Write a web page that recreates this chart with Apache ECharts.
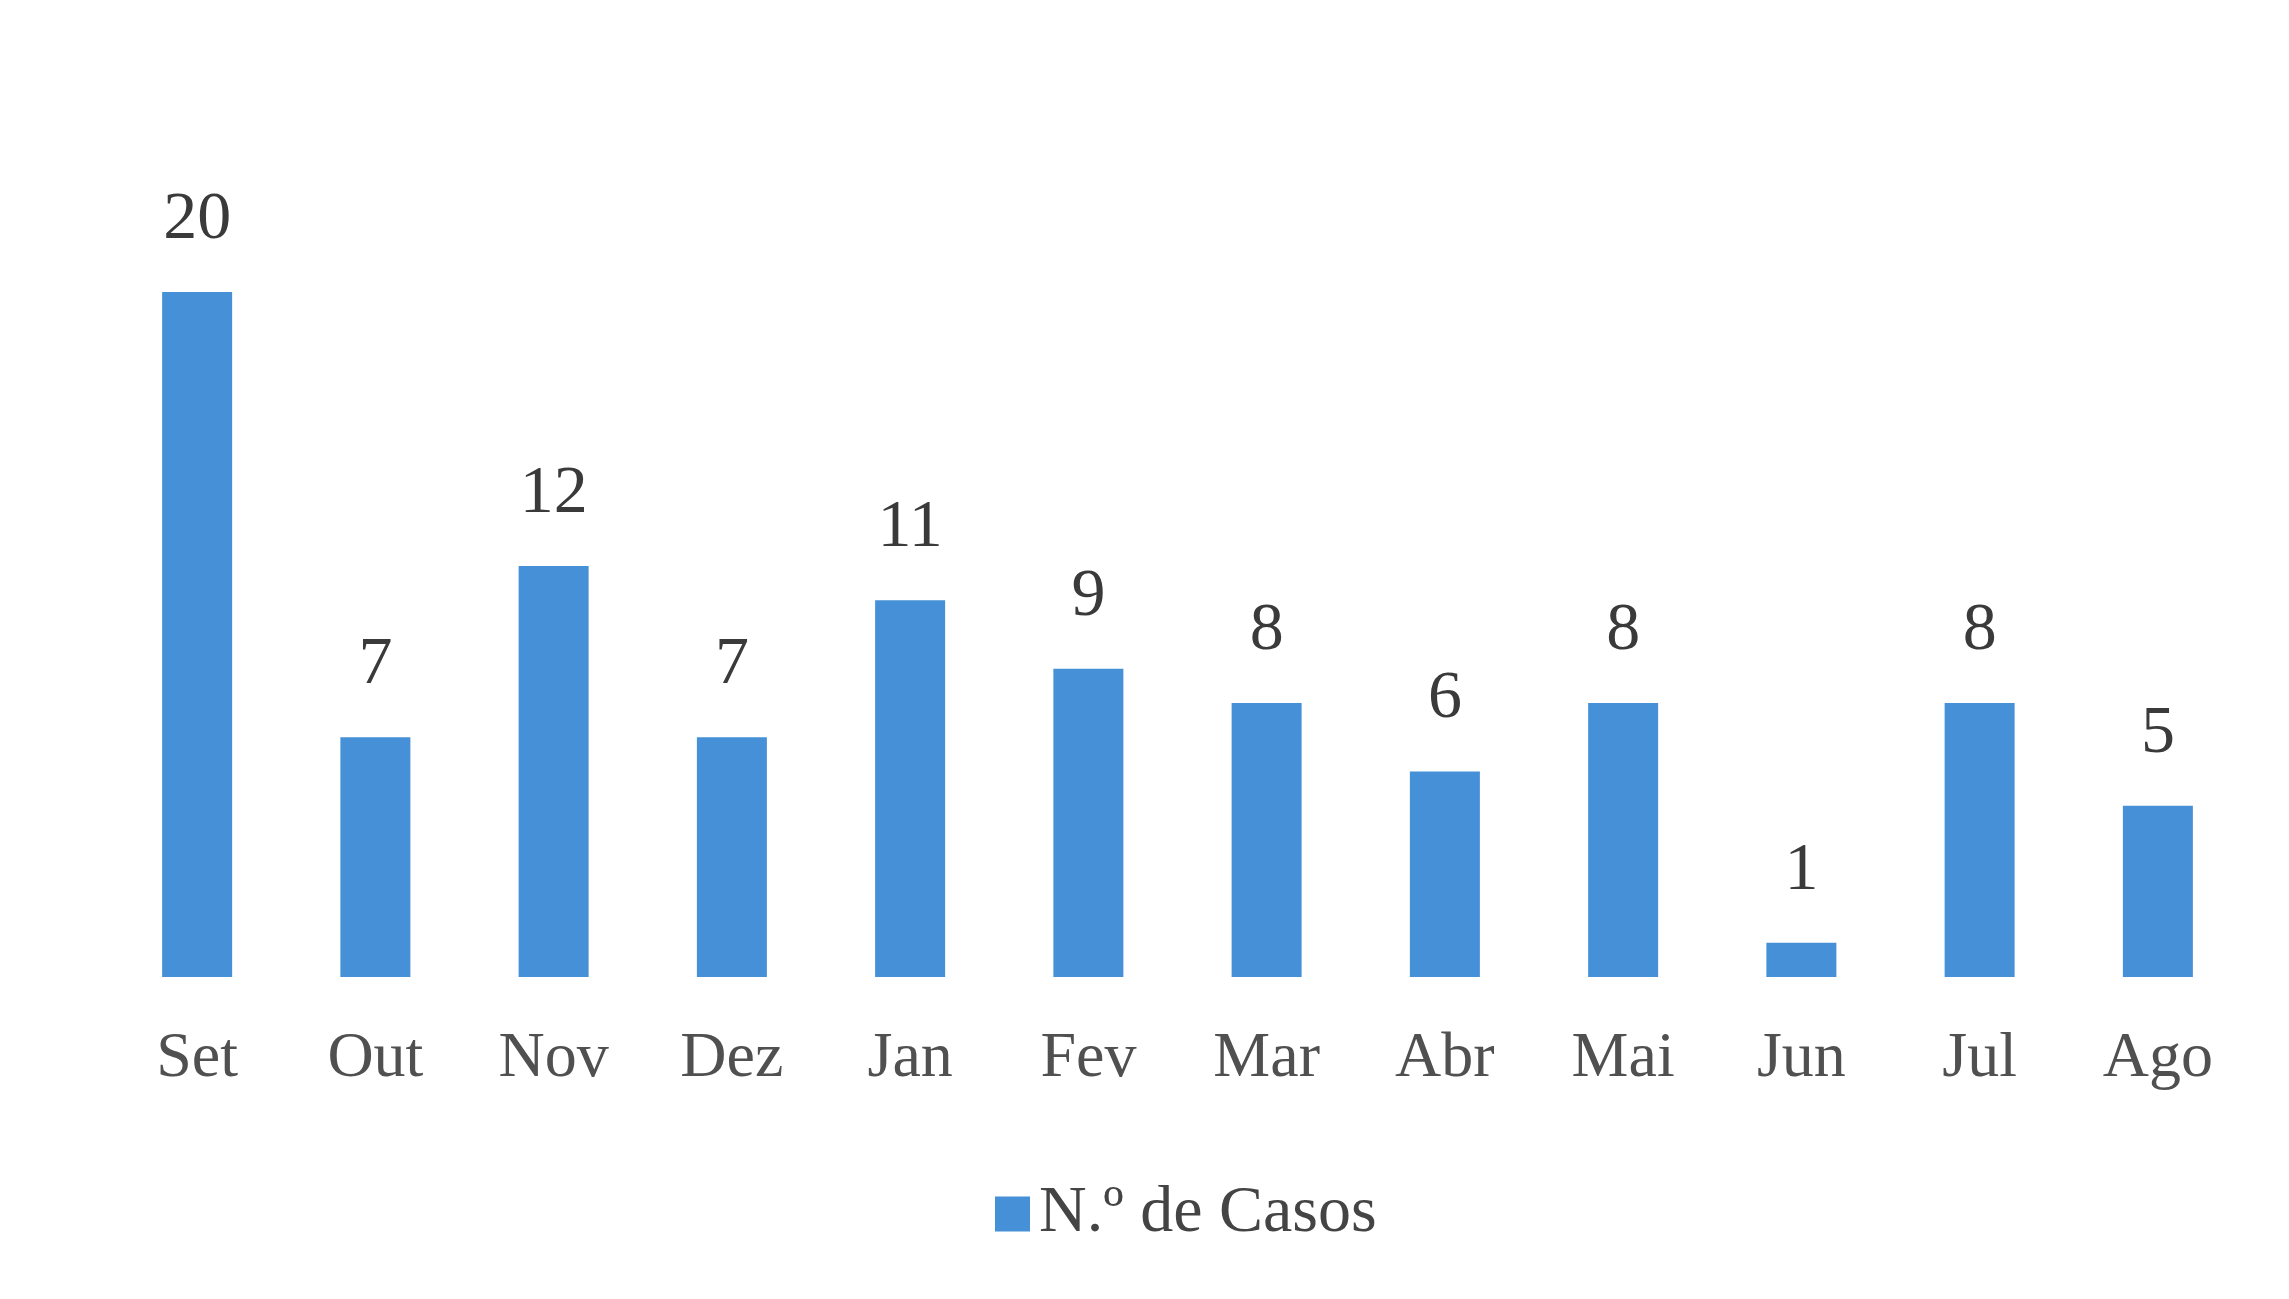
<!DOCTYPE html>
<html>
<head>
<meta charset="utf-8">
<script src="https://cdn.jsdelivr.net/npm/echarts@6/dist/echarts.min.js"></script>
<style>
html,body{margin:0;padding:0;background:#fff;}
#chart{width:2289px;height:1299px;}
</style>
</head>
<body>
<div id="chart"></div>
<script>
const categories = ['Set','Out','Nov','Dez','Jan','Fev','Mar','Abr','Mai','Jun','Jul','Ago'];
const casos = [20, 7, 12, 7, 11, 9, 8, 6, 8, 1, 8, 5];
const seriesName = 'N.º de Casos';

const chart = echarts.init(document.getElementById('chart'));
const fontFamily = '"Liberation Serif", "DejaVu Serif", serif';
chart.setOption({
  backgroundColor: '#ffffff',
  animation: false,
  textStyle: { fontFamily: fontFamily },
  legend: {
    data: [seriesName],
    left: 990,
    top: 1176,
    itemWidth: 35,
    itemHeight: 35,
    icon: 'rect',
    itemGap: 12,
    textStyle: { fontFamily: fontFamily, fontSize: 66, color: '#444444', padding: [0, 0, 0, 4] }
  },
  grid: { left: 108, right: 42, top: 292, bottom: 322, containLabel: false },
  xAxis: {
    type: 'category',
    data: categories,
    axisLine: { show: false },
    axisTick: { show: false },
    axisLabel: { fontFamily: fontFamily, fontSize: 64, color: '#505050', margin: 50 }
  },
  yAxis: {
    type: 'value',
    min: 0,
    max: 20,
    show: false,
    splitLine: { show: false }
  },
  series: [{
    name: seriesName,
    type: 'bar',
    data: casos,
    barWidth: 70,
    itemStyle: { color: '#4590d6' },
    label: {
      show: true,
      position: 'top',
      distance: 38,
      fontFamily: fontFamily,
      fontSize: 68,
      color: '#3a3a3a'
    }
  }]
});
</script>
</body>
</html>
